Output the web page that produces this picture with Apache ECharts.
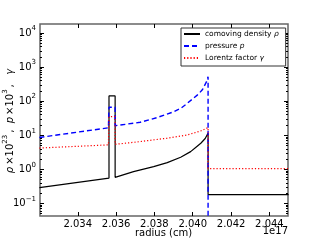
<!DOCTYPE html>
<html>
<head>
<meta charset="utf-8">
<script src="https://cdn.jsdelivr.net/npm/echarts@6/dist/echarts.min.js"></script>
<style>
html,body{margin:0;padding:0;background:#fff;}
#chart{width:320px;height:240px;}
</style>
</head>
<body>
<div id="chart"></div>
<script>
// radius in units of 1e17 cm
const densityX = [2.0320, 2.03563, 2.03563, 2.03595, 2.03595, 2.03691, 2.03796, 2.03867, 2.03937, 2.03989, 2.04020, 2.04042, 2.04065, 2.04080, 2.04080, 2.04500];
const densityY = [0.29, 0.55, 143, 143, 0.58, 0.85, 1.2, 1.57, 2.26, 3.3, 4.6, 5.8, 8.0, 11.5, 0.18, 0.18];

const pressureX = [2.0320, 2.03560, 2.03563, 2.03595, 2.03595, 2.03726, 2.03814, 2.03902, 2.03940, 2.03972, 2.04025, 2.04050, 2.04072, 2.04080, 2.04080];
const pressureY = [8.6, 16.5, 66, 66, 19, 24, 33, 49, 63, 87, 153, 215, 376, 525, 0.001];

const lorentzX = [2.0320, 2.03560, 2.03563, 2.03595, 2.03595, 2.03726, 2.03867, 2.03972, 2.04042, 2.04080, 2.04080, 2.04500];
const lorentzY = [4.2, 5.2, 35, 35, 5.4, 6.5, 8.2, 10.2, 13.4, 16.7, 1.05, 1.05];

const seriesNames = ['comoving density', 'pressure', 'Lorentz factor'];
const seriesSymbols = ['ρ', 'p', 'γ'];

const xTickValues = [2.034, 2.036, 2.038, 2.040, 2.042, 2.044];
const yDecadeExps = [-1, 0, 1, 2, 3, 4];

const xTitle = 'radius (cm)';
const xOffsetText = '1e17';
const yTitle = '{i|ρ}\u2009×10{s|23}\u2009,  {i|p}\u2009×10{s|3}\u2009,   {i|γ}';

const X_MIN = 2.03203, X_MAX = 2.04497;
const Y_MIN = -1.373, Y_MAX = 4.267; // log10 extent

const minorExps = [];
for (let d = -2; d <= 4; d++) {
  for (let k = 2; k <= 9; k++) {
    const v = Math.log10(k) + d;
    if (v > Y_MIN && v < Y_MAX) minorExps.push(v);
  }
}

function pairs(xs, ys) {
  return xs.map((x, i) => [x, Math.log10(ys[i])]);
}

const FONT = 'DejaVu Sans';
const tickStyle = {color: '#000', width: 1};

function yTickAxis(position, values, len) {
  return {
    type: 'value', position: position, min: Y_MIN, max: Y_MAX,
    axisLine: {show: false, onZero: false}, splitLine: {show: false},
    axisLabel: {show: false},
    axisTick: {show: true, inside: true, length: len, lineStyle: tickStyle, customValues: values}
  };
}

const chart = echarts.init(document.getElementById('chart'), null, {renderer: 'canvas'});

const option = {
  animation: false,
  textStyle: {fontFamily: FONT},
  grid: {left: 40, right: 32, top: 24, bottom: 24, show: true, borderColor: '#666', borderWidth: 1.5,
    backgroundColor: '#fff', containLabel: false, outerBoundsMode: 'none'},
  legend: {
    orient: 'vertical', left: 181, top: 28,
    padding: [2, 7, 4, 2], itemGap: 4, itemWidth: 16, itemHeight: 8,
    backgroundColor: '#fff', borderColor: '#333', borderWidth: 1, borderRadius: 0,
    itemStyle: {opacity: 0},
    data: seriesNames,
    formatter: function (name) {
      const i = seriesNames.indexOf(name);
      return name + ' {i|' + seriesSymbols[i] + '}';
    },
    textStyle: {fontFamily: FONT, fontSize: 7.5, color: '#000',
      rich: {i: {fontFamily: FONT, fontSize: 7.5, fontStyle: 'italic', color: '#000'}}}
  },
  xAxis: [
    {
      type: 'value', position: 'bottom', min: X_MIN, max: X_MAX,
      axisLine: {show: false, onZero: false}, splitLine: {show: false},
      axisTick: {show: true, inside: true, length: 4, lineStyle: tickStyle, customValues: xTickValues},
      axisLabel: {show: true, margin: 3, fontFamily: FONT, fontSize: 10, color: '#000', customValues: xTickValues,
        formatter: v => v.toFixed(3)}
    },
    {
      type: 'value', position: 'top', min: X_MIN, max: X_MAX,
      axisLine: {show: false, onZero: false}, splitLine: {show: false},
      axisTick: {show: true, inside: true, length: 4, lineStyle: tickStyle, customValues: xTickValues},
      axisLabel: {show: false}
    }
  ],
  yAxis: [
    {
      type: 'value', position: 'left', min: Y_MIN, max: Y_MAX,
      axisLine: {show: false, onZero: false}, splitLine: {show: false},
      axisTick: {show: true, inside: true, length: 4, lineStyle: tickStyle, customValues: yDecadeExps},
      axisLabel: {show: true, margin: 4, customValues: yDecadeExps,
        formatter: v => '{b|10}{s|' + String(Math.round(v)).replace('-', '\u2212') + '}',
        rich: {
          b: {fontFamily: FONT, fontSize: 10, color: '#000', lineHeight: 16},
          s: {fontFamily: FONT, fontSize: 7, color: '#000', verticalAlign: 'top', lineHeight: 16}
        }}
    },
    yTickAxis('right', yDecadeExps, 4),
    yTickAxis('left', minorExps, 2),
    yTickAxis('right', minorExps, 2)
  ],
  series: [
    {
      name: seriesNames[0], type: 'line', xAxisIndex: 0, yAxisIndex: 0,
      data: pairs(densityX, densityY), symbol: 'none', clip: true,
      lineStyle: {color: '#000', width: 1.2, type: 'solid'}, itemStyle: {color: '#000'}, z: 3
    },
    {
      name: seriesNames[1], type: 'line', xAxisIndex: 0, yAxisIndex: 0,
      data: pairs(pressureX, pressureY), symbol: 'none', clip: true,
      lineStyle: {color: '#0000ff', width: 1.4, type: [5, 3]}, itemStyle: {color: '#0000ff'}, z: 4
    },
    {
      name: seriesNames[2], type: 'line', xAxisIndex: 0, yAxisIndex: 0,
      data: pairs(lorentzX, lorentzY), symbol: 'none', clip: true,
      lineStyle: {color: '#ff0000', width: 1.2, type: [1.2, 2]}, itemStyle: {color: '#ff0000'}, z: 5
    }
  ],
  graphic: [
    {type: 'text', right: 32, top: 226, style: {text: xOffsetText, font: '10px "DejaVu Sans"', fill: '#000'}},
    {type: 'text', x: 163.5, y: 233, style: {text: xTitle, font: '10px "DejaVu Sans"', fill: '#000', align: 'center', verticalAlign: 'middle'}},
    {type: 'text', x: 10, y: 121, rotation: Math.PI / 2,
      style: {text: yTitle, fontFamily: FONT, fontSize: 10, fill: '#000', align: 'center', verticalAlign: 'middle', lineHeight: 16,
        rich: {
          i: {fontFamily: FONT, fontSize: 10, fontStyle: 'italic', fill: '#000', lineHeight: 16},
          s: {fontFamily: FONT, fontSize: 7, fill: '#000', verticalAlign: 'top', lineHeight: 16}
        }}}
  ]
};
chart.setOption(option);
</script>
</body>
</html>
